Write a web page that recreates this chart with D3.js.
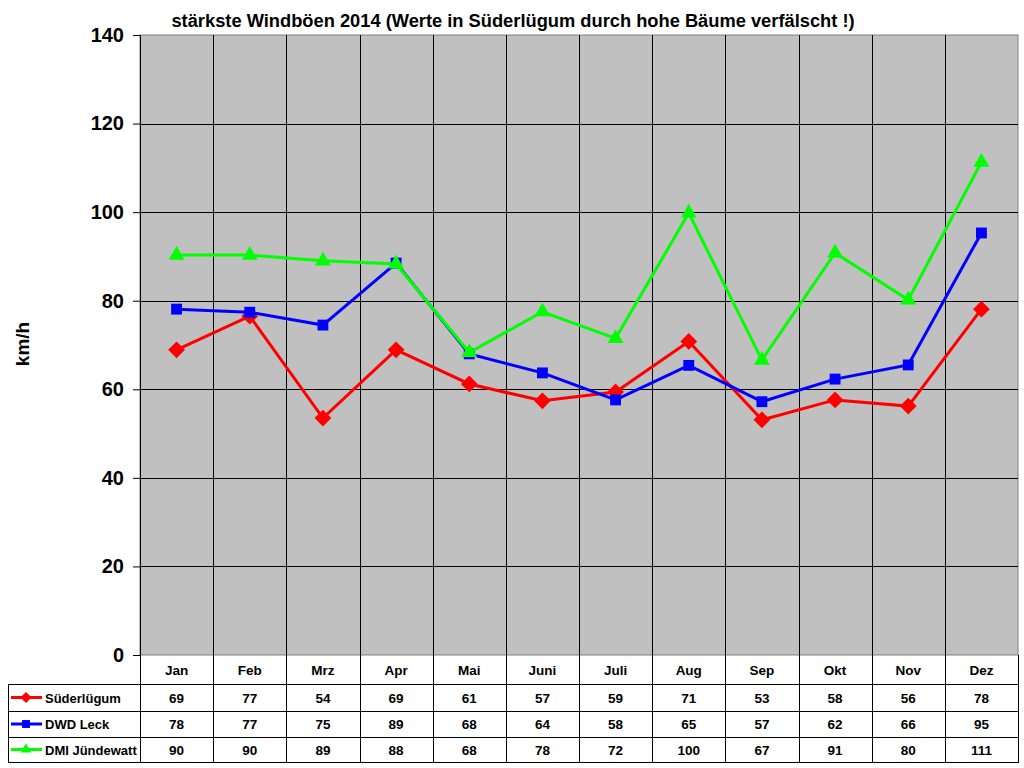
<!DOCTYPE html>
<html>
<head>
<meta charset="utf-8">
<script src="https://cdnjs.cloudflare.com/ajax/libs/d3/7.8.5/d3.min.js"></script>
<style>
  body { margin: 0; background: #fff; }
  svg { font-family: "Liberation Sans", Arial, sans-serif; font-weight: bold; }
</style>
</head>
<body>
<svg id="chart" width="1024" height="768"></svg>
<script>
const months = ["Jan", "Feb", "Mrz", "Apr", "Mai", "Juni", "Juli", "Aug", "Sep", "Okt", "Nov", "Dez"];
const suederluegum = [68.9, 76.5, 53.5, 68.9, 61.2, 57.4, 59.4, 70.8, 53.1, 57.6, 56.2, 78.1];
const dwdLeck = [78.1, 77.4, 74.5, 88.5, 68.0, 63.7, 57.6, 65.4, 57.2, 62.3, 65.5, 95.3];
const dmiJuendewatt = [90.3, 90.3, 89.0, 88.3, 68.3, 77.5, 71.5, 99.8, 66.6, 90.8, 80.2, 111.3];
const yTicks = [0, 20, 40, 60, 80, 100, 120, 140];

const series = [
  { name: "Süderlügum", values: suederluegum, color: "#ff0000", symbol: d3.symbolDiamond2, size: 180 },
  { name: "DWD Leck", values: dwdLeck, color: "#0000ff", symbol: d3.symbolSquare2, size: 150 },
  { name: "DMI Jündewatt", values: dmiJuendewatt, color: "#00ff00", symbol: d3.symbolTriangle2, size: 180 }
];

const svg = d3.select("#chart");
const margin = { top: 35, right: 6, left: 140 };
const plotBottom = 655;
const width = 1024 - margin.left - margin.right;
const height = plotBottom - margin.top;

const x = d3.scaleBand().domain(months).range([0, width]);
const y = d3.scaleLinear().domain([0, 140]).range([height, 0]);

const g = svg.append("g").attr("transform", "translate(" + margin.left + "," + margin.top + ")");

// plot background
g.append("rect")
  .attr("width", width).attr("height", height)
  .attr("fill", "#c0c0c0")
  .attr("stroke", "#808080");

// horizontal grid
g.append("g")
  .selectAll("line")
  .data(yTicks.slice(1, -1))
  .enter().append("line")
    .attr("x1", 0).attr("x2", width)
    .attr("y1", d => Math.round(y(d)) + 0.5).attr("y2", d => Math.round(y(d)) + 0.5)
    .attr("stroke", "#000");

// vertical grid
g.append("g")
  .selectAll("line")
  .data(months.slice(1))
  .enter().append("line")
    .attr("x1", d => Math.round(x(d)) + 0.5).attr("x2", d => Math.round(x(d)) + 0.5)
    .attr("y1", 0).attr("y2", height)
    .attr("stroke", "#000");

// y axis
const yAxis = g.append("g")
  .call(d3.axisLeft(y).tickValues(yTicks).tickSize(7).tickPadding(9));
yAxis.select(".domain").attr("stroke", "#000");
yAxis.selectAll("text")
  .attr("font-size", 20).attr("font-weight", "bold").attr("fill", "#000")
  .attr("font-family", "Liberation Sans, Arial, sans-serif");

// y label
svg.append("text")
  .attr("transform", "translate(29,344) rotate(-90)")
  .attr("text-anchor", "middle")
  .attr("font-size", 19)
  .text("km/h");

// title
svg.append("text")
  .attr("x", 513).attr("y", 27)
  .attr("text-anchor", "middle")
  .attr("font-size", 18.3)
  .text("stärkste Windböen 2014 (Werte in Süderlügum durch hohe Bäume verfälscht !)");

// lines and markers
const line = d3.line()
  .x((d, i) => x(months[i]) + x.bandwidth() / 2)
  .y(d => y(d));

series.forEach(s => {
  const sg = g.append("g");
  sg.append("path")
    .datum(s.values)
    .attr("d", line)
    .attr("fill", "none")
    .attr("stroke", s.color)
    .attr("stroke-width", 3);
  sg.selectAll("path.m")
    .data(s.values)
    .enter().append("path")
      .attr("class", "m")
      .attr("d", d3.symbol().type(s.symbol).size(s.size))
      .attr("transform", (d, i) => "translate(" + (x(months[i]) + x.bandwidth() / 2) + "," + y(d) + ")")
      .attr("fill", s.color);
});

// data table
const tableLeft = 8;
const rowTops = [655, 684, 711, 737, 762];
const t = svg.append("g").attr("font-size", 13.5).attr("fill", "#000");

const colEdges = [0].concat(months.map(m => x(m) + x.bandwidth()));
t.selectAll("line.hv")
  .data(colEdges)
  .enter().append("line")
    .attr("x1", d => Math.round(margin.left + d) + 0.5).attr("x2", d => Math.round(margin.left + d) + 0.5)
    .attr("y1", rowTops[0]).attr("y2", rowTops[4])
    .attr("stroke", "#000");

t.append("line")
  .attr("x1", tableLeft + 0.5).attr("x2", tableLeft + 0.5)
  .attr("y1", rowTops[1]).attr("y2", rowTops[4]).attr("stroke", "#000");

t.selectAll("line.hr")
  .data(rowTops.slice(1))
  .enter().append("line")
    .attr("x1", tableLeft).attr("x2", margin.left + width + 1)
    .attr("y1", d => d + 0.5).attr("y2", d => d + 0.5)
    .attr("stroke", "#000");

t.selectAll("text.mh")
  .data(months)
  .enter().append("text")
    .attr("x", d => margin.left + x(d) + x.bandwidth() / 2)
    .attr("y", (rowTops[0] + rowTops[1]) / 2 + 5)
    .attr("text-anchor", "middle")
    .text(d => d);

series.forEach((s, r) => {
  const cy = (rowTops[r + 1] + rowTops[r + 2]) / 2;
  t.append("line")
    .attr("x1", 11).attr("x2", 42)
    .attr("y1", cy).attr("y2", cy)
    .attr("stroke", s.color).attr("stroke-width", 3);
  t.append("path")
    .attr("d", d3.symbol().type(s.symbol).size(80))
    .attr("transform", "translate(26," + cy + ")")
    .attr("fill", s.color);
  t.append("text")
    .attr("x", 45).attr("y", cy + 5)
    .attr("font-size", 13)
    .text(s.name);
  t.selectAll(null)
    .data(s.values)
    .enter().append("text")
      .attr("x", (d, i) => margin.left + x(months[i]) + x.bandwidth() / 2)
      .attr("y", cy + 5)
      .attr("text-anchor", "middle")
      .text(d => Math.round(d));
});
</script>
</body>
</html>
